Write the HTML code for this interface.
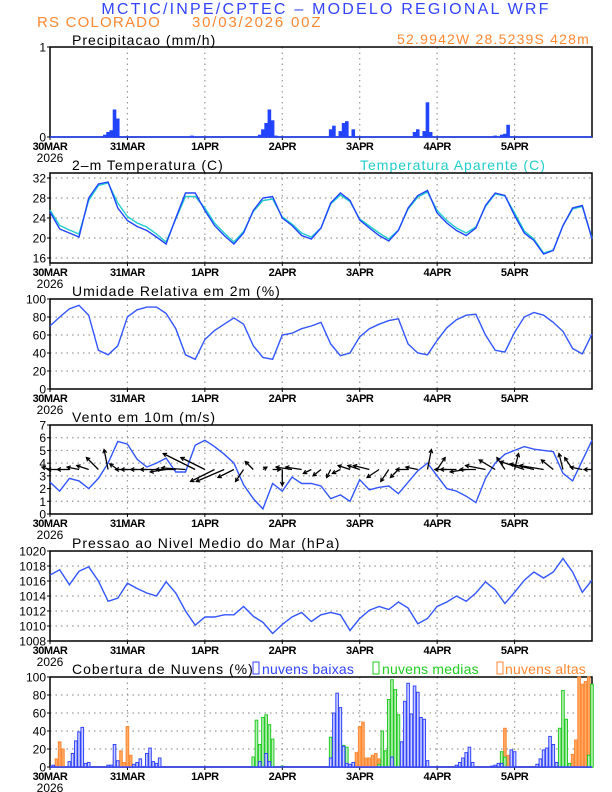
<!DOCTYPE html>
<html><head><meta charset="utf-8"><style>
html,body{margin:0;padding:0;background:#fff;}
svg{display:block;font-family:"Liberation Sans",sans-serif;}
.t{letter-spacing:1px;}
.l{letter-spacing:0.2px;}
</style></head><body>
<svg id="s" width="612" height="792" viewBox="0 0 612 792" xmlns="http://www.w3.org/2000/svg">
<text x="326" y="14" text-anchor="middle" font-size="16" letter-spacing="2.2" fill="#3344ff">MCTIC/INPE/CPTEC – MODELO REGIONAL WRF</text>
<text x="37" y="27" font-size="15" letter-spacing="1.2" fill="#ff8833">RS COLORADO</text>
<text x="192" y="27" font-size="15" letter-spacing="1.8" fill="#ff8833">30/03/2026 00Z</text>
<text x="590" y="44" text-anchor="end" font-size="14" letter-spacing="1.2" fill="#ff8833">52.9942W 28.5239S 428m</text>
<text class="t" x="72" y="45" font-size="14">Precipitacao (mm/h)</text>
<text class="t" x="72" y="170" font-size="14">2–m Temperatura (C)</text>
<text class="t" x="360" y="170" font-size="14" fill="#22cccc">Temperatura Aparente (C)</text>
<text class="t" x="72" y="296" font-size="14">Umidade Relativa em 2m (%)</text>
<text class="t" x="72" y="422" font-size="14">Vento em 10m (m/s)</text>
<text class="t" x="72" y="548" font-size="14">Pressao ao Nivel Medio do Mar (hPa)</text>
<text class="t" x="72" y="674" font-size="14">Cobertura de Nuvens (%)</text>
<rect x="253" y="662" width="6" height="12" fill="none" stroke="#3344ff"/>
<text class="l" x="262" y="674" font-size="14" fill="#3344ff">nuvens baixas</text>
<rect x="373" y="662" width="6" height="12" fill="none" stroke="#22cc22"/>
<text class="l" x="382" y="674" font-size="14" fill="#22cc22">nuvens medias</text>
<rect x="497" y="662" width="6" height="12" fill="none" stroke="#ff8833"/>
<text class="l" x="505" y="674" font-size="14" fill="#ff8833">nuvens altas</text>
</svg>
<script>
var dayLabels=["30MAR","31MAR","1APR","2APR","3APR","4APR","5APR"];
var hours3=[];for(var i=0;i<=56;i++)hours3.push(i*3);
var tempVals=[25.2,21.8,21.0,20.2,28,30.8,31.2,26,23.5,22.3,21.5,20.2,18.8,24,29,29,25.5,22.5,20.5,18.8,21,25.5,28,28.3,24,22.5,20.5,19.8,22,27,29,27.5,23.6,22,20.5,19.4,21.5,26,28.5,29.5,25,23,21.5,20.5,22,26.5,29,28.5,24.5,21,19.5,16.8,17.5,22.5,26,26.5,19.8];
var appVals=[25.6,22.5,21.6,20.8,27.5,30.5,31,27,24.3,23,22.2,20.8,19.2,23.8,28.3,28.3,26,23,21,19.2,21.3,25.3,27.5,27.8,24.2,22.8,21,20.2,22,26.8,28.6,27.3,23.8,22.4,21,19.8,21.6,25.8,28.2,29.2,25.5,23.5,22,21,22.2,26.3,28.8,28.4,25,21.4,19.8,17,17.6,22.5,25.8,26.3,20];
var rhVals=[70,80,89,93,82,43,38,48,80,88,91,91,84,67,38,33,55,65,72,79,72,48,35,33,60,62,67,70,74,50,37,40,58,67,72,76,78,50,40,38,54,68,77,82,83,60,43,41,63,80,85,82,74,64,45,39,61];
var windVals=[2.5,1.8,2.8,2.6,2.0,2.8,4.0,5.7,5.5,4.3,3.7,4.0,4.4,3.3,3.3,5.4,5.8,5.3,4.7,4.0,2.3,1.2,0.4,2.4,1.8,2.9,2.4,2.4,2.2,1.2,1.5,1.0,2.7,1.9,2.1,2.2,1.6,2.5,3.4,4.0,3.0,2.0,1.8,1.4,0.9,2.8,4.0,4.7,5.0,5.3,5.1,5.0,4.9,3.2,2.6,4.2,5.8];
var windU=[-1,-1.5,-1.5,-1.5,-1.5,-1.5,-0.5,-1,-1.5,-2,-2,-2,-2,-2.5,-3,-4,-3,-3,-3.5,-2,-1,-1,0.5,1,0,-2,-2,-1,-1,-0.5,-1,-1.5,-1.5,-2,-1.5,-1,-1,-1.5,-1.5,0.5,1,-1.5,-2,-2,-2,-2.5,-2,-1,0.5,-3,-3,-3,-1.5,-0.5,-1,-1.5,-1];
var windV=[0.3,0,0,0.3,0.5,1.5,2.5,0.7,0,0,0,0,-0.3,0,0.2,2,1.5,-1.5,-1.5,-1,-1.5,1,0.3,0,-2,0.3,0.3,-0.5,-0.8,-1,-0.5,0.5,0.5,0.5,-1,-1.5,-1,0,0.3,2.5,1.5,0,0,-0.3,0,0.5,1.2,1.5,2,1,0.7,0.5,1.2,2,1.5,0.3,0];
var presVals=[1016.8,1017.5,1015.5,1017.3,1017.9,1016,1013.3,1013.7,1015.7,1015,1014.4,1014,1015.9,1014.4,1012,1010.1,1011.2,1011.2,1011.5,1011.5,1012.6,1011.3,1010.5,1009,1010.2,1011.2,1011.8,1010.6,1011.5,1011.8,1011.5,1009.4,1011,1012.1,1012.6,1012.2,1013.2,1012.4,1010.3,1011,1012.6,1013.2,1014,1013.3,1014.4,1015.9,1014.8,1013,1014.5,1016.1,1017.2,1016.4,1017.2,1019,1017.2,1014.5,1016.1];
var precipHours=[17,18,19,20,21,44,65,66,67,68,69,70,87,88,90,91,92,94,113,114,116,117,118,138,140,141,142];
var precipVals=[0.02,0.05,0.07,0.3,0.2,0.01,0.02,0.08,0.15,0.3,0.18,0.01,0.08,0.12,0.06,0.15,0.17,0.08,0.05,0.08,0.06,0.38,0.05,0.01,0.02,0.03,0.13];
var lowHours=[1,6,7,8,9,10,11,12,18,19,20,21,26,27,28,30,31,32,33,34,65,67,68,87,88,89,90,91,92,93,94,106,109,110,111,112,113,114,115,116,117,126,127,128,129,130,131,137,138,139,140,143,144,151,152,153,154,155,156,157];
var lowVals=[2,6,15,29,39,44,4,5,2,2,25,7,3,5,9,15,21,6,4,10,6,15,6,10,60,82,66,23,4,3,5,11,28,73,93,59,90,83,55,53,7,2,5,10,16,22,5,1,2,4,4,19,17,3,9,19,21,34,25,5];
var midHours=[63,64,65,66,67,68,69,72,87,88,90,91,92,102,103,104,105,106,107,108,110,112,113,140,141,158,159,160,161,167,168];
var midVals=[11,52,25,55,58,47,31,1,33,3,29,24,22,3,40,18,75,97,86,58,7,12,11,17,11,43,85,53,4,13,92];
var highHours=[2,3,4,20,21,22,23,24,25,95,96,97,98,99,100,101,102,141,142,162,163,164,165,166,167];
var highVals=[9,28,20,11,5,18,5,45,13,16,45,50,10,10,13,15,9,43,13,14,30,100,92,95,100];

var NS="http://www.w3.org/2000/svg",svg=document.getElementById("s");
var X0=50,X1=592;
function X(h){return X0+h*(X1-X0)/168;}
function mk(t,a){var e=document.createElementNS(NS,t);for(var k in a)e.setAttribute(k,a[k]);svg.appendChild(e);return e;}
function panel(name,top,bot,mn,mx,ticks){
  var Y=function(v){return bot-(v-mn)/(mx-mn)*(bot-top);};
  for(var d=1;d<7;d++){var g=mk("line",{x1:X(d*24),x2:X(d*24),y1:top,y2:bot,stroke:"#999","stroke-dasharray":"1.5,4","stroke-width":1.2});
    
    }
  ticks.forEach(function(t){
    if(t>mn&&t<mx){var g=mk("line",{x1:X0,x2:X1,y1:Y(t),y2:Y(t),stroke:"#999","stroke-dasharray":"1.5,4","stroke-width":1.2});
      
      }
    var tx=mk("text",{x:X0-4,y:Y(t)+4.5,"text-anchor":"end","font-size":12});tx.textContent=t;
    
    
    var tk=mk("line",{x1:X0-3,x2:X0,y1:Y(t),y2:Y(t),stroke:"#000"});
    
    
  });
  var fr=mk("rect",{x:X0,y:top,width:X1-X0,height:bot-top,fill:"none",stroke:"#000","stroke-width":1.5});
  
  
  for(var d=0;d<7;d++){
    var tl=mk("text",{x:X(d*24),y:bot+13,"text-anchor":"middle","font-size":11,"font-weight":"bold","letter-spacing":"-0.5"});tl.textContent=dayLabels[d];
    
    
    var tk=mk("line",{x1:X(d*24),x2:X(d*24),y1:bot,y2:bot+3,stroke:"#000"});
    
    
  }
  var yr=mk("text",{x:X0,y:bot+25,"text-anchor":"middle","font-size":12});yr.textContent="2026";
  
  
  return Y;
}
function line(name,hrs,vals,Y,color){
  var d=hrs.map(function(h,i){return (i?"L":"M")+X(h).toFixed(1)+","+Y(vals[i]).toFixed(1);}).join("");
  var p=mk("path",{d:d,fill:"none",stroke:color,"stroke-width":1.4});
  
  
}
function bars(name,hrs,vals,Y,stroke,fill,bot){
  hrs.forEach(function(h,i){
    var y=Y(vals[i]);
    var r=mk("rect",{x:X(h)-1.3,y:y,width:2.6,height:Math.max(0.5,bot-y),fill:fill,stroke:stroke,"stroke-width":1});
    
    
  });
}
var Y1=panel("precip",47,137,0,1,[0,1]);
bars("precip-bar",precipHours,precipVals,Y1,"#2244ff","#2244ff",137);
var bl=mk("line",{x1:X0,x2:X1,y1:137,y2:137,stroke:"#2244ff","stroke-width":1.5});


var Y2=panel("temp",173,263,15,33,[16,20,24,28,32]);
line("apparent-temp-line",hours3,appVals,Y2,"#22cccc");
line("temp-line",hours3,tempVals,Y2,"#2244ff");
var Y3=panel("humidity",299,389,0,100,[0,20,40,60,80,100]);
line("humidity-line",hours3,rhVals,Y3,"#3355ff");
var Y4=panel("wind",425,514,0,7,[0,1,2,3,4,5,6,7]);
line("wind-speed-line",hours3,windVals,Y4,"#3355ff");
var by=Y4(3.5),sc=8;
hours3.forEach(function(h,i){
  var x0=X(h),x1=x0+windU[i]*sc,y1=by-windV[i]*sc;
  var a=mk("line",{x1:x0,y1:by,x2:x1,y2:y1,stroke:"#000","stroke-width":1.3});
  
  
  var ang=Math.atan2(y1-by,x1-x0),L=4;
  var hd=mk("path",{d:"M"+(x1-L*Math.cos(ang-0.5))+","+(y1-L*Math.sin(ang-0.5))+"L"+x1+","+y1+"L"+(x1-L*Math.cos(ang+0.5))+","+(y1-L*Math.sin(ang+0.5)),fill:"none",stroke:"#000","stroke-width":1.2});
  
  
});
var Y5=panel("pressure",551,641,1008,1020,[1008,1010,1012,1014,1016,1018,1020]);
line("pressure-line",hours3,presVals,Y5,"#3355ff");
var Y6=panel("cloud",677,767,0,100,[0,20,40,60,80,100]);
bars("high-cloud-bar",highHours,highVals,Y6,"#ff8833","#ffaa66",767);
bars("mid-cloud-bar",midHours,midVals,Y6,"#22cc22","#bbeebb",767);
bars("low-cloud-bar",lowHours,lowVals,Y6,"#3344ff","#ccd0ff",767);
var cb=mk("line",{x1:X0,x2:X1,y1:767,y2:767,stroke:"#3344ff","stroke-width":1.5});


</script>
</body></html>
